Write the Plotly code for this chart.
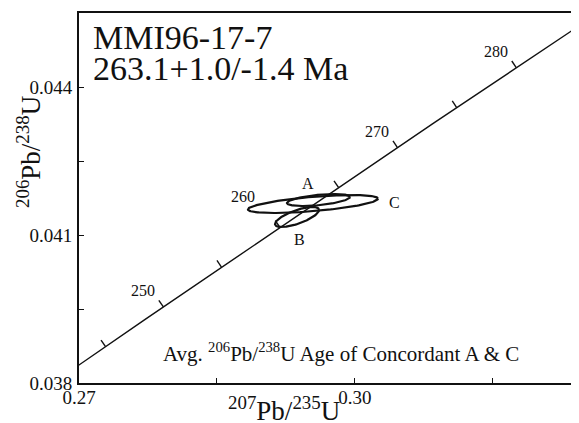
import numpy as np
import plotly.graph_objects as go

# ---- data ----
decay_238 = 1.55125e-10
decay_235 = 9.8485e-10
curve_ages = [240, 290]                  # concordia age span (Ma)
tick_ages = [245, 250, 255, 260, 265, 270, 275, 280, 285]
label_ages = [250, 260, 270, 280]

ell_names = ["A", "B", "C"]
ell_x = [0.29603, 0.29370, 0.29543]      # 207Pb/235U
ell_sx = [0.003424, 0.002391, 0.007065]
ell_y = [0.041709, 0.041365, 0.041628]   # 206Pb/238U
ell_sy = [0.0001216, 0.000203, 0.000182]
ell_rho = [0.5, 0.7, 0.6]

x_tickvals = [0.27, 0.285, 0.30, 0.315]
x_ticktext = ["0.27", " ", "0.30", " "]
y_tickvals = [0.038, 0.0395, 0.041, 0.0425, 0.044]
y_ticktext = ["0.038", " ", "0.041", " ", "0.044"]

sample = "MMI96-17-7"
age_text = "263.1+1.0/-1.4 Ma"
note = "Avg. <sup>206</sup>Pb/<sup>238</sup>U Age of Concordant A & C"

# ---- helpers ----
def conc(t_ma):
    t = np.asarray(t_ma, dtype=float) * 1e6
    return np.exp(decay_235 * t) - 1, np.exp(decay_238 * t) - 1

X_RANGE = [0.27, 0.32435]
Y_RANGE = [0.038, 0.0455]
PW, PH = 500, 370
kx = PW / (X_RANGE[1] - X_RANGE[0])
ky = PH / (Y_RANGE[1] - Y_RANGE[0])

FONT = "Liberation Serif, Times New Roman, serif"
INK = "#111"
fig = go.Figure()

# concordia curve
ages = np.linspace(curve_ages[0], curve_ages[-1], 400)
cx, cy = conc(ages)
fig.add_trace(go.Scatter(x=cx, y=cy, mode="lines",
                         line=dict(color=INK, width=1.4),
                         hoverinfo="skip", showlegend=False))

# age ticks on concordia (perpendicular, toward upper-left)
tx, ty = [], []
TL = 8.0
for a in tick_ages:
    x0, y0 = conc(a)
    x1, y1 = conc(a + 0.01)
    dxp, dyp = (x1 - x0) * kx, (y1 - y0) * ky
    n = np.hypot(dxp, dyp)
    nxp, nyp = -dyp / n, dxp / n
    tx += [float(x0), float(x0 + nxp * TL / kx), None]
    ty += [float(y0), float(y0 + nyp * TL / ky), None]
fig.add_trace(go.Scatter(x=tx, y=ty, mode="lines",
                         line=dict(color=INK, width=1.4),
                         hoverinfo="skip", showlegend=False))

# ellipses
th = np.linspace(0, 2 * np.pi, 200)
for name, mx, sx, my, sy, r in zip(ell_names, ell_x, ell_sx, ell_y, ell_sy, ell_rho):
    ex = mx + sx * np.cos(th)
    ey = my + sy * (r * np.cos(th) + np.sqrt(1 - r * r) * np.sin(th))
    fig.add_trace(go.Scatter(x=ex, y=ey, mode="lines",
                             line=dict(color=INK, width=2.2),
                             hoverinfo="skip", showlegend=False))

annotations = []
# age labels
label_shift = {260: (-37, 31)}
for a in label_ages:
    x0, y0 = conc(a)
    sx_, sy_ = label_shift.get(a, (-20, 16))
    annotations.append(dict(x=float(x0), y=float(y0), xref="x", yref="y",
                            text=str(a), showarrow=False, xshift=sx_, yshift=sy_,
                            font=dict(family=FONT, size=16, color=INK)))

# ellipse labels
ell_label_pos = {"A": (0.29489, 0.042054), "B": (0.29402, 0.040919), "C": (0.30424, 0.041649)}
for name in ell_names:
    px, py = ell_label_pos[name]
    annotations.append(dict(x=px, y=py, xref="x", yref="y", text=name, showarrow=False,
                            font=dict(family=FONT, size=16, color=INK)))

# title block
annotations.append(dict(x=0.024, y=0.935, xref="paper", yref="paper", text=sample,
                        showarrow=False, xanchor="left", yanchor="middle",
                        font=dict(family=FONT, size=34, color=INK)))
annotations.append(dict(x=0.024, y=0.849, xref="paper", yref="paper", text=age_text,
                        showarrow=False, xanchor="left", yanchor="middle",
                        font=dict(family=FONT, size=34, color=INK)))
# note
annotations.append(dict(x=(161 - 79) / PW, y=(383 - 352) / PH, xref="paper", yref="paper",
                        text=note, showarrow=False, xanchor="left", yanchor="middle",
                        font=dict(family=FONT, size=21, color=INK)))
# axis titles
annotations.append(dict(x=(284 - 79) / PW, y=(383 - 409) / PH, xref="paper", yref="paper",
                        text="<sup>207</sup>Pb/<sup>235</sup>U", showarrow=False,
                        xanchor="center", yanchor="middle",
                        font=dict(family=FONT, size=27, color=INK)))
annotations.append(dict(x=(29 - 79) / PW, y=(383 - 152) / PH, xref="paper", yref="paper",
                        text="<sup>206</sup>Pb/<sup>238</sup>U", showarrow=False,
                        textangle=-90, xanchor="center", yanchor="middle",
                        font=dict(family=FONT, size=27, color=INK)))

# the page body has an 8px default margin; the figure is sized so the plot area
# lands at the reference's pixel position
fig.update_layout(
    width=571, height=415,
    margin=dict(l=71, r=0, t=5, b=40, autoexpand=False),
    paper_bgcolor="white", plot_bgcolor="white",
    showlegend=False,
    annotations=annotations,
    xaxis=dict(range=X_RANGE, tickvals=x_tickvals, ticktext=x_ticktext,
               ticks="inside", ticklen=5, tickwidth=1.3, tickcolor=INK,
               showline=True, linecolor=INK, linewidth=2, mirror=True,
               showgrid=False, zeroline=False, ticklabelstandoff=-4,
               tickfont=dict(family=FONT, size=19, color=INK)),
    yaxis=dict(range=Y_RANGE, tickvals=y_tickvals, ticktext=y_ticktext,
               ticks="inside", ticklen=5, tickwidth=1.3, tickcolor=INK,
               showline=True, linecolor=INK, linewidth=2, mirror=False,
               showgrid=False, zeroline=False, ticklabelstandoff=1,
               tickfont=dict(family=FONT, size=19, color=INK)),
)

fig.write_html("out.html")
